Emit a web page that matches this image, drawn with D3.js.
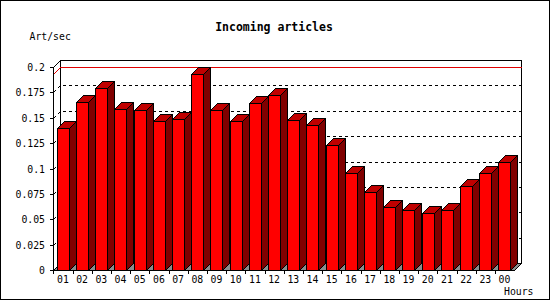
<!DOCTYPE html>
<html><head><meta charset="utf-8">
<script src="https://cdn.jsdelivr.net/npm/d3@7"></script>
<style>html,body{margin:0;padding:0;background:#fff;}svg{display:block;}</style>
</head><body>
<script>
const hours = ["01","02","03","04","05","06","07","08","09","10","11","12","13","14","15","16","17","18","19","20","21","22","23","00"];
const values = [0.140,0.166,0.179,0.159,0.158,0.147,0.149,0.193,0.158,0.147,0.165,0.172,0.148,0.143,0.123,0.096,0.077,0.062,0.059,0.056,0.059,0.083,0.096,0.106];
const yTicks = [0,0.025,0.05,0.075,0.1,0.125,0.15,0.175,0.2];
const yTickLabels = ["0","0.025","0.05","0.075","0.1","0.125","0.15","0.175","0.2"];
const title = "Incoming articles", yTitle = "Art/sec", xTitle = "Hours";

const W = 550, H = 300, D = 7;
const x = d3.scaleBand().domain(hours).range([53.3, 514.1]);
const y = d3.scaleLinear().domain([0, 0.2]).range([270, 67]);
const X0 = Math.round(x.range()[0]), X1 = Math.round(x.range()[1]);
const Y0 = Math.round(y(0)), YT = Math.round(y(0.2));
const mono = "'DejaVu Sans Mono', 'Liberation Mono', monospace";

const svg = d3.select("body").append("svg").attr("width", W).attr("height", H)
  .attr("shape-rendering", "crispEdges");
svg.append("rect").attr("x", 0.5).attr("y", 0.5).attr("width", W - 1).attr("height", H - 1)
  .attr("fill", "#fff").attr("stroke", "#000");

const pt = p => p.map(q => q.join(",")).join(" ");

// back wall
svg.append("rect").attr("x", X0 + D + 0.5).attr("y", YT - D + 0.5)
  .attr("width", X1 - X0).attr("height", Y0 - YT).attr("fill", "#fff").attr("stroke", "#000");
// floor
svg.append("polygon").attr("points", pt([[X0 + 0.5, Y0 + 0.5], [X0 + D + 0.5, Y0 - D + 0.5], [X1 + D + 0.5, Y0 - D + 0.5], [X1 + 0.5, Y0 + 0.5]]))
  .attr("fill", "#8c8c8c").attr("stroke", "#000");

// gridlines (left wall diagonal + back wall)
yTicks.filter(t => t > 0 && t < 0.2).forEach(t => {
  const yy = Math.round(y(t)) + 0.5;
  svg.append("path").attr("d", `M${X0 + 0.5},${yy}L${X0 + D + 0.5},${yy - D}L${X1 + D + 0.5},${yy - D}`)
    .attr("fill", "none").attr("stroke", "#000").attr("stroke-dasharray", "3,3");
});
// top of left wall
svg.append("path").attr("d", `M${X0 + 0.5},${YT + 0.5}L${X0 + D + 0.5},${YT - D + 0.5}`).attr("stroke", "#000");
// max line
const ym = Math.round(y(d3.max(values))) + 0.5;
svg.append("path").attr("d", `M${X0 + 0.5},${ym}L${X0 + D + 0.5},${ym - D}L${X1 + D + 0.5},${ym - D}`)
  .attr("fill", "none").attr("stroke", "#e00000");

// bars
const g = svg.append("g").attr("stroke", "#000").attr("stroke-width", 1);
hours.forEach((h, i) => {
  const fx = Math.round(x(h) + 3.4) + 0.5, fw = 12;
  const top = Math.round(y(values[i])) + 0.5, bot = Y0 + 0.5;
  g.append("polygon").attr("points", pt([[fx + fw, top], [fx + fw + D, top - D], [fx + fw + D, bot - D], [fx + fw, bot]])).attr("fill", "#800000");
  g.append("polygon").attr("points", pt([[fx, top], [fx + D, top - D], [fx + fw + D, top - D], [fx + fw, top]])).attr("fill", "#c00000");
  g.append("rect").attr("x", fx).attr("y", top).attr("width", fw).attr("height", bot - top).attr("fill", "#ff0000");
});

// front axes
svg.append("path").attr("d", `M${X0 + 0.5},${YT + 0.5}V${Y0 + 0.5}H${X1 + 0.5}`).attr("fill", "none").attr("stroke", "#000");
yTicks.forEach((t, i) => {
  const yy = Math.round(y(t)) + 0.5;
  svg.append("path").attr("d", `M${X0 - 3},${yy}H${X0 + 0.5}`).attr("stroke", "#000");
  svg.append("text").attr("x", 45).attr("y", yy).attr("dy", "0.35em").attr("text-anchor", "end")
    .attr("font-family", mono).attr("font-size", "9.8px").attr("fill", "#000").text(yTickLabels[i]);
});
hours.forEach(h => {
  const xx = Math.round(x(h)) + 0.5;
  svg.append("path").attr("d", `M${xx},${Y0}V${Y0 + 4}`).attr("stroke", "#000");
  svg.append("text").attr("x", x(h) + x.bandwidth() / 2).attr("y", 280).attr("dy", "0.35em").attr("text-anchor", "middle")
    .attr("font-family", mono).attr("font-size", "9.8px").attr("fill", "#000").text(h);
});

svg.append("text").attr("x", 274).attr("y", 27).attr("dy", "0.35em").attr("text-anchor", "middle")
  .attr("font-family", mono).attr("font-weight", "bold").attr("font-size", "11.5px").attr("fill", "#000").text(title);
svg.append("text").attr("x", 29.5).attr("y", 36.5).attr("dy", "0.35em")
  .attr("font-family", mono).attr("font-size", "9.8px").attr("fill", "#000").text(yTitle);
svg.append("text").attr("x", 504).attr("y", 292).attr("dy", "0.35em")
  .attr("font-family", mono).attr("font-size", "9.8px").attr("fill", "#000").text(xTitle);
</script>
</body></html>
